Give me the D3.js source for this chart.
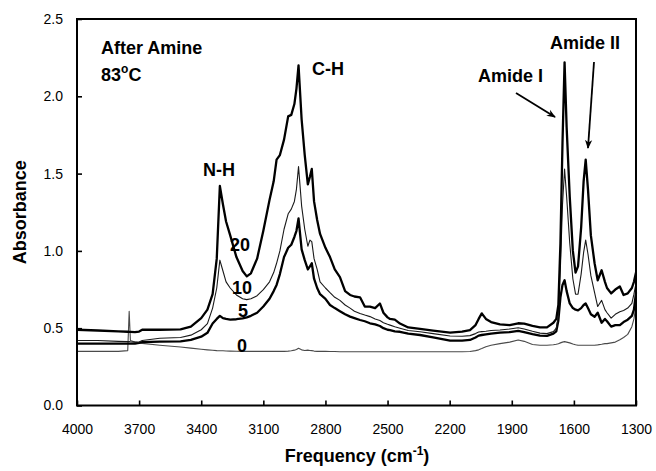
<!DOCTYPE html>
<html>
<head>
<meta charset="utf-8">
<script src="https://cdn.jsdelivr.net/npm/d3@7"></script>
<style>
  body { margin: 0; background: #fff; }
  svg { display: block; font-family: Arial, "Liberation Sans", sans-serif; }
</style>
</head>
<body>
<svg id="chart" width="656" height="471"></svg>
<script>
// wavenumber grid (cm-1), shared by all spectra
const freqs = [4000, 3900, 3800, 3755, 3748, 3742, 3720, 3700, 3685, 3600, 3500, 3450, 3400, 3370, 3345, 3325,
  3310, 3295, 3280, 3260, 3230, 3200, 3180, 3160, 3130, 3100, 3070, 3050, 3036, 3020, 3000, 2980,
  2965, 2950, 2940, 2930, 2915, 2900, 2885, 2875, 2866, 2855, 2840, 2826, 2800, 2778, 2755, 2730,
  2705, 2681, 2660, 2633, 2610, 2585, 2560, 2537, 2520, 2500, 2488, 2465, 2440, 2400, 2343, 2280,
  2198, 2140, 2102, 2075, 2060, 2045, 2025, 2000, 1957, 1910, 1869, 1840, 1800, 1764, 1730, 1699,
  1685, 1675, 1665, 1655, 1645, 1635, 1620, 1605, 1592, 1580, 1565, 1553, 1543, 1532, 1518, 1500,
  1485, 1466, 1450, 1440, 1420, 1400, 1378, 1360, 1340, 1320, 1310, 1300];

// absorbance after 20, 10, 5 and 0 (min)
const abs20 = [0.49, 0.485, 0.48, 0.477, 0.476, 0.476, 0.475, 0.478, 0.49, 0.49, 0.492, 0.51, 0.565, 0.62, 0.72, 0.95,
  1.42, 1.30, 1.19, 1.10, 0.96, 0.87, 0.835, 0.855, 0.95, 1.13, 1.33, 1.45, 1.59, 1.62, 1.72, 1.87,
  1.88, 1.95, 2.05, 2.20, 1.85, 1.62, 1.43, 1.48, 1.53, 1.32, 1.20, 1.11, 1.02, 0.96, 0.88, 0.83,
  0.74, 0.715, 0.705, 0.70, 0.64, 0.64, 0.63, 0.66, 0.60, 0.57, 0.56, 0.555, 0.53, 0.505, 0.495, 0.485,
  0.472, 0.478, 0.488, 0.52, 0.56, 0.596, 0.56, 0.54, 0.525, 0.52, 0.532, 0.53, 0.515, 0.505, 0.505, 0.535,
  0.56, 0.65, 1.05, 1.70, 2.22, 1.80, 1.35, 1.00, 0.86, 0.90, 1.15, 1.45, 1.59, 1.40, 1.10, 0.92,
  0.81, 0.875, 0.80, 0.76, 0.725, 0.75, 0.77, 0.715, 0.725, 0.76, 0.80, 0.86];

const abs10 = [0.42, 0.42, 0.415, 0.413, 0.413, 0.412, 0.41, 0.41, 0.42, 0.435, 0.44, 0.455, 0.49, 0.53, 0.63, 0.76,
  0.94, 0.87, 0.80, 0.76, 0.715, 0.69, 0.685, 0.69, 0.71, 0.75, 0.80, 0.86, 0.92, 1.00, 1.14, 1.24,
  1.27, 1.32, 1.40, 1.545, 1.29, 1.14, 1.03, 1.07, 1.06, 0.95, 0.88, 0.80, 0.76, 0.73, 0.70, 0.68,
  0.65, 0.63, 0.61, 0.595, 0.585, 0.575, 0.56, 0.55, 0.535, 0.525, 0.52, 0.51, 0.50, 0.485, 0.477, 0.465,
  0.45, 0.448, 0.452, 0.465, 0.475, 0.478, 0.48, 0.485, 0.488, 0.495, 0.503, 0.495, 0.48, 0.468, 0.465, 0.478,
  0.50, 0.58, 0.90, 1.30, 1.53, 1.35, 1.05, 0.82, 0.72, 0.72, 0.85, 0.99, 1.07, 0.98, 0.84, 0.73,
  0.64, 0.68, 0.62, 0.60, 0.565, 0.59, 0.607, 0.615, 0.63, 0.66, 0.72, 0.79];

const abs5 = [0.40, 0.40, 0.40, 0.40, 0.40, 0.40, 0.40, 0.405, 0.41, 0.413, 0.415, 0.425, 0.445, 0.47, 0.53, 0.56,
  0.58, 0.565, 0.56, 0.556, 0.558, 0.563, 0.57, 0.58, 0.60, 0.64, 0.69, 0.74, 0.78, 0.85, 0.96, 1.02,
  1.04, 1.09, 1.13, 1.21, 1.01, 0.94, 0.88, 0.90, 0.92, 0.82, 0.76, 0.72, 0.69, 0.65, 0.63, 0.61,
  0.59, 0.575, 0.565, 0.553, 0.545, 0.532, 0.525, 0.514, 0.50, 0.49, 0.488, 0.48, 0.477, 0.465, 0.456, 0.44,
  0.419, 0.42, 0.424, 0.44, 0.452, 0.456, 0.46, 0.465, 0.471, 0.475, 0.482, 0.475, 0.462, 0.452, 0.45, 0.465,
  0.48, 0.55, 0.70, 0.78, 0.81, 0.74, 0.66, 0.63, 0.62, 0.615, 0.63, 0.65, 0.66, 0.63, 0.59, 0.574,
  0.60, 0.535, 0.56, 0.545, 0.51, 0.52, 0.52, 0.54, 0.555, 0.58, 0.62, 0.73];

const abs0 = [0.35, 0.35, 0.35, 0.355, 0.61, 0.42, 0.41, 0.405, 0.402, 0.39, 0.378, 0.371, 0.364, 0.36, 0.357, 0.355,
  0.354, 0.354, 0.353, 0.352, 0.351, 0.35, 0.35, 0.35, 0.35, 0.35, 0.35, 0.35, 0.35, 0.35, 0.35, 0.352,
  0.354, 0.358, 0.362, 0.37, 0.36, 0.356, 0.358, 0.356, 0.355, 0.352, 0.35, 0.35, 0.35, 0.349, 0.349, 0.348,
  0.348, 0.348, 0.348, 0.348, 0.348, 0.348, 0.348, 0.348, 0.348, 0.348, 0.348, 0.348, 0.348, 0.348, 0.348, 0.348,
  0.348, 0.348, 0.349, 0.355, 0.36, 0.368, 0.38, 0.39, 0.40, 0.41, 0.424, 0.415, 0.395, 0.39, 0.39, 0.393,
  0.396, 0.40, 0.405, 0.41, 0.413, 0.41, 0.405, 0.398, 0.393, 0.39, 0.39, 0.39, 0.39, 0.39, 0.39, 0.39,
  0.392, 0.396, 0.40, 0.40, 0.405, 0.41, 0.425, 0.44, 0.46, 0.51, 0.56, 0.65];

const xTicks = [4000, 3700, 3400, 3100, 2800, 2500, 2200, 1900, 1600, 1300];
const yTicks = [0, 0.5, 1.0, 1.5, 2.0, 2.5];

const series = [
  { name: "0", values: abs0, color: "#4a4a4a", width: 1.1 },
  { name: "5", values: abs5, color: "#000", width: 2.3 },
  { name: "10", values: abs10, color: "#1a1a1a", width: 1.1 },
  { name: "20", values: abs20, color: "#000", width: 2.3 }
];

const svg = d3.select("#chart");
const box = { left: 77, right: 636, top: 19, bottom: 405.5 };

const x = d3.scaleLinear().domain([4000, 1300]).range([box.left, box.right]);
const y = d3.scaleLinear().domain([0, 2.5]).range([box.bottom, box.top]);

svg.append("rect").attr("width", 656).attr("height", 471).attr("fill", "#fff");

// axes, ticks pointing inward
const xAxis = svg.append("g")
  .attr("transform", `translate(0,${box.bottom})`)
  .call(d3.axisBottom(x).tickValues(xTicks).tickFormat(d3.format("d"))
    .tickSizeInner(-5).tickSizeOuter(0).tickPadding(19));
const yAxis = svg.append("g")
  .attr("transform", `translate(${box.left},0)`)
  .call(d3.axisLeft(y).tickValues(yTicks).tickFormat(d3.format(".1f"))
    .tickSizeInner(-5).tickSizeOuter(0).tickPadding(14));

[xAxis, yAxis].forEach(g => {
  g.select(".domain").remove();
  g.selectAll(".tick line").attr("stroke", "#000").attr("stroke-width", 1.6);
  g.selectAll(".tick text").attr("fill", "#000").style("font-size", "14px")
    .style("font-family", "Arial, 'Liberation Sans', sans-serif");
});

// spectra
const line = d3.line()
  .x((d, i) => x(freqs[i]))
  .y(d => y(d));

series.forEach(s => {
  svg.append("path")
    .attr("d", line(s.values))
    .attr("fill", "none")
    .attr("stroke", s.color)
    .attr("stroke-width", s.width)
    .attr("stroke-linejoin", "round");
});

// frame
svg.append("rect")
  .attr("x", box.left).attr("y", box.top)
  .attr("width", box.right - box.left).attr("height", box.bottom - box.top)
  .attr("fill", "none").attr("stroke", "#000").attr("stroke-width", 2);

// axis titles
svg.append("text")
  .attr("x", 357).attr("y", 462)
  .attr("text-anchor", "middle")
  .style("font-size", "18px").style("font-weight", "bold")
  .call(t => {
    t.append("tspan").text("Frequency (cm");
    t.append("tspan").attr("dy", -7).style("font-size", "12px").text("-1");
    t.append("tspan").attr("dy", 7).text(")");
  });

svg.append("text")
  .attr("transform", `translate(26,${(box.top + box.bottom) / 2}) rotate(-90)`)
  .attr("text-anchor", "middle")
  .style("font-size", "18px").style("font-weight", "bold")
  .text("Absorbance");

// annotations
const bold = (txt, px, py, anchor = "start") =>
  svg.append("text").attr("x", px).attr("y", py)
    .attr("text-anchor", anchor)
    .style("font-size", "18px").style("font-weight", "bold")
    .text(txt);

bold("After Amine", 101, 54);
svg.append("text").attr("x", 101).attr("y", 81)
  .style("font-size", "18px").style("font-weight", "bold")
  .call(t => {
    t.append("tspan").text("83");
    t.append("tspan").attr("dy", -8).style("font-size", "12px").text("o");
    t.append("tspan").attr("dy", 8).text("C");
  });
bold("C-H", 312, 75);
bold("N-H", 203, 176);
bold("Amide I", 478, 82);
bold("Amide II", 550, 49);

bold("20", 230, 251);
bold("10", 232, 294);
bold("5", 238, 317);
bold("0", 237, 352);

// arrows
svg.append("defs").append("marker")
  .attr("id", "head")
  .attr("viewBox", "0 0 10 10")
  .attr("refX", 9).attr("refY", 5)
  .attr("markerWidth", 5).attr("markerHeight", 5)
  .attr("orient", "auto")
  .append("path")
  .attr("d", "M0,1 L10,5 L0,9 L3,5 Z")
  .attr("fill", "#000");

const arrows = [
  [516, 93, 555, 117],
  [594, 62, 588, 148]
];
arrows.forEach(a => {
  svg.append("line")
    .attr("x1", a[0]).attr("y1", a[1]).attr("x2", a[2]).attr("y2", a[3])
    .attr("stroke", "#000").attr("stroke-width", 1.8)
    .attr("marker-end", "url(#head)");
});
</script>
</body>
</html>
